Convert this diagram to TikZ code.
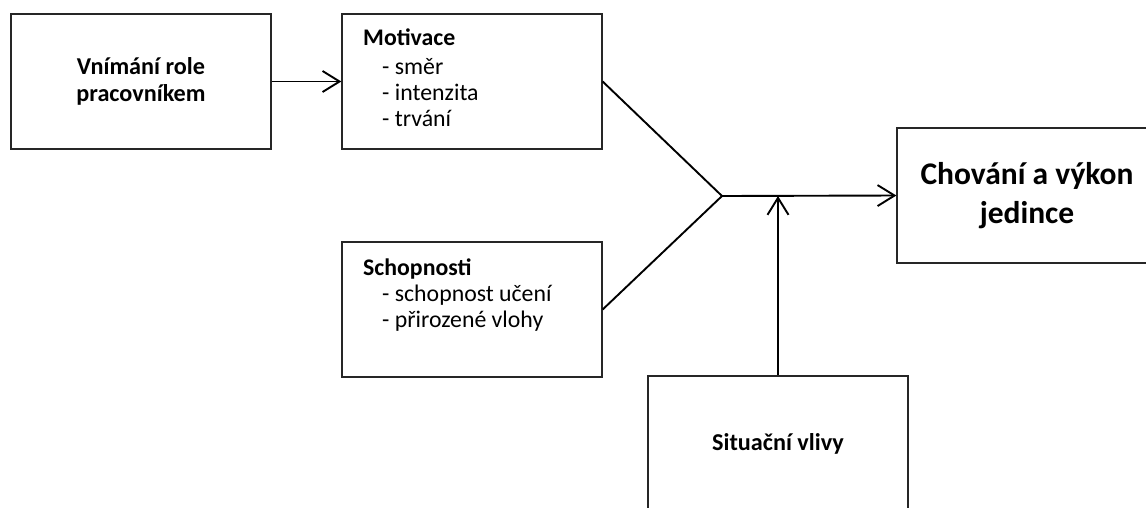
\documentclass[tikz,border=0pt]{standalone}
\usepackage{fontspec}
\setmainfont{Carlito}
\usetikzlibrary{arrows.meta}
\begin{document}
\begin{tikzpicture}[x=1pt,y=-1pt,
  box/.style={draw=black!85, line width=1.3pt, minimum width=260pt,
    minimum height=135pt, inner sep=0pt},
  body/.style={font=\fontsize{23.8}{26}\selectfont},
  bodybold/.style={font=\fontsize{24.2}{27}\selectfont\bfseries},
  bigbold/.style={font=\fontsize{31.5}{38.5}\selectfont\bfseries},
  link/.style={line width=1.9pt, line join=miter},
  flow/.style={line width=1.9pt,
    -{Straight Barb[length=17pt,width=21pt,line width=1.9pt]}},
  % the anchor sits on the baseline of the last line of the block
  listtext/.style={body, align=left, inner sep=0pt, anchor=base west}
]
\useasboundingbox (0,0) rectangle (1146,507);
\clip (0,0) rectangle (1146,507);

% boxes
\node[box, bodybold, align=center] (A) at (141,81.5) {Vnímání role\\pracovníkem};
\node[box] (M) at (472,81.5) {};
\node[box] (S) at (472,309.5) {};
\node[box, bigbold, align=center] (C) at (1027,195.5) {Chování a výkon\\jedince};
\node[box, bodybold] (Sit) at (778,443.5) {Situační vlivy};

% box contents
\node[listtext] (Mt) at (363,126.5) {\textbf{Motivace}\\[3pt]
  \hspace*{19pt}- směr\\ \hspace*{19pt}- intenzita\\ \hspace*{19pt}- trvání};
\node[listtext] (St) at (363,327.5) {\textbf{Schopnosti}\\
  \hspace*{19pt}- schopnost učení\\ \hspace*{19pt}- přirozené vlohy};

% connectors
\coordinate (J) at (722,196);
\draw[flow] (A.east) -- (M.west);
\draw[link] (M.east) -- (J) -- (S.east);
\draw[flow] (J) -- (C.west);
\draw[flow] (Sit.north) -- (Sit.north |- J);
\end{tikzpicture}
\end{document}
